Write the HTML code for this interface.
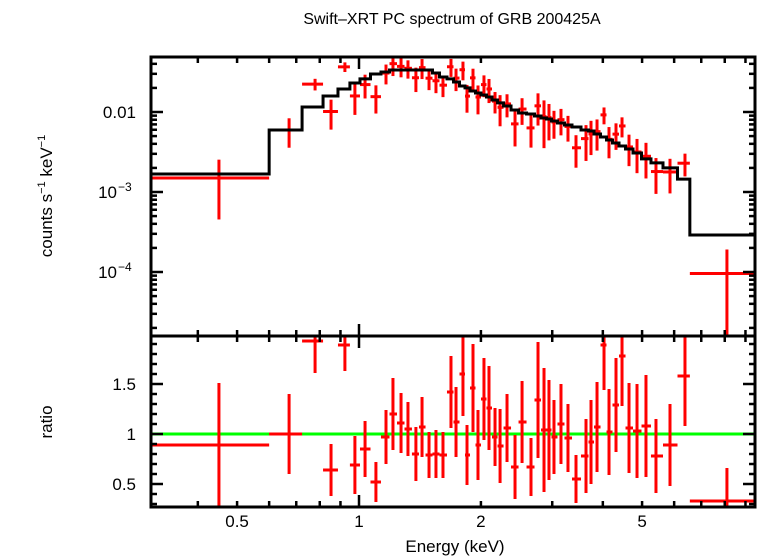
<!DOCTYPE html>
<html><head><meta charset="utf-8"><style>
body{margin:0;background:#fff;}
svg{display:block;font-family:"Liberation Sans",sans-serif;}
</style></head><body>
<svg id="chart" width="758" height="556" viewBox="0 0 758 556" xmlns="http://www.w3.org/2000/svg">
<defs>
<clipPath id="clipTop"><rect x="151" y="57" width="604" height="279"/></clipPath>
<clipPath id="clipBot"><rect x="151" y="336" width="604" height="171"/></clipPath>
</defs>
<text x="452" y="24" font-size="16" text-anchor="middle">Swift–XRT PC spectrum of GRB 200425A</text>
<text transform="translate(52,196) rotate(-90)" font-size="17" text-anchor="middle">counts s<tspan font-size="11" dy="-7">−1</tspan><tspan dy="7"> keV</tspan><tspan font-size="11" dy="-7">−1</tspan></text>
<text transform="translate(52,422) rotate(-90)" font-size="17" text-anchor="middle">ratio</text>
<text x="455" y="552" font-size="17" text-anchor="middle">Energy (keV)</text>
<g id="gTop"></g>
<g id="gBot"></g>
<g id="gAxes"></g>
</svg>
<script>
const energy=[0.451,0.672,0.779,0.853,0.923,0.977,1.035,1.101,1.166,1.213,1.270,1.321,1.382,1.431,1.489,1.549,1.612,1.687,1.736,1.806,1.848,1.912,1.967,2.035,2.094,2.167,2.230,2.320,2.428,2.527,2.659,2.767,2.863,2.945,3.030,3.153,3.281,3.434,3.635,3.740,3.870,4.027,4.143,4.311,4.461,4.642,4.858,5.112,5.411,5.860,6.381,8.10];
const modelVals=[0.00168,0.00596,0.01155,0.01585,0.0194,0.0230,0.0259,0.0299,0.0316,0.0335,0.0335,0.0335,0.0335,0.0335,0.0335,0.0307,0.0274,0.0259,0.0237,0.0211,0.0200,0.0183,0.0173,0.0163,0.0154,0.0141,0.0130,0.0119,0.0106,0.00972,0.00944,0.00891,0.00841,0.00818,0.00772,0.00729,0.00688,0.00649,0.00596,0.00579,0.00531,0.00487,0.00447,0.00410,0.00376,0.00345,0.00307,0.00259,0.00231,0.00200,0.00145,0.00029];
const ratioVals=[0.89,1.0,1.93,0.64,1.89,0.69,0.85,0.52,0.97,1.20,1.11,1.05,0.80,1.07,0.79,0.80,0.79,1.42,1.12,1.60,0.79,1.46,0.89,1.35,1.26,0.97,0.88,1.06,0.67,1.12,0.67,1.34,1.04,1.04,0.97,1.10,0.96,0.55,0.78,0.92,1.07,1.89,1.02,1.29,1.78,1.06,1.03,1.08,0.78,0.89,1.58,0.33];
const ratioErr=[0.62,0.40,0.32,0.26,0.26,0.29,0.28,0.20,0.27,0.36,0.30,0.27,0.27,0.30,0.23,0.24,0.23,0.36,0.35,0.42,0.30,0.44,0.35,0.41,0.42,0.29,0.37,0.34,0.32,0.41,0.29,0.58,0.62,0.50,0.37,0.40,0.34,0.24,0.37,0.42,0.45,0.45,0.43,0.47,0.50,0.45,0.47,0.51,0.37,0.41,0.50,0.33];
const xTickLabels=["0.5","1","2","5"];
const xTickValues=[0.5,1,2,5];
const yTopLabels=["0.01","10","10"];
const yTopExp=["","−3","−4"];
const yTopValues=[0.01,0.001,0.0001];
const yBotLabels=["0.5","1","1.5"];
const yBotValues=[0.5,1,1.5];

const NS="http://www.w3.org/2000/svg";
const X0=151,X1=755,T0=57,T1=336,B1=507;
const xs=e=>359+405*Math.log10(e);
const yt=v=>112-80*(Math.log10(v)+2);
const yb=r=>434-100*(r-1);
function mk(p,tag,at){const el=document.createElementNS(NS,tag);for(const k in at)el.setAttribute(k,at[k]);p.appendChild(el);return el;}
const gTop=document.getElementById('gTop'),gBot=document.getElementById('gBot'),gAx=document.getElementById('gAxes');
const dT=mk(gTop,'g',{'clip-path':'url(#clipTop)'});
const dB=mk(gBot,'g',{'clip-path':'url(#clipBot)'});
// bin edges
const n=energy.length,lo=[],hi=[];
for(let i=0;i<n;i++){
  lo.push(i===0?0.3:Math.sqrt(energy[i-1]*energy[i]));
  hi.push(i===n-1?9.6:Math.sqrt(energy[i]*energy[i+1]));
}
hi[0]=0.6;lo[1]=0.6;lo[n-1]=6.56;hi[n-2]=6.56;
// green line
const gl=mk(dB,'line',{x1:X0,x2:X1,y1:yb(1),y2:yb(1),stroke:'#00ff00','stroke-width':3});


// model step
let d='';
for(let i=0;i<n;i++){const y=yt(modelVals[i]);d+=(i===0?'M':'L')+xs(lo[i])+','+y+'L'+xs(hi[i])+','+y;}
// data
for(let i=0;i<n;i++){
  const xl=xs(lo[i]),xh=xs(hi[i]),xc=xs(energy[i]);
  const val=ratioVals[i]*modelVals[i],err=ratioErr[i]*modelVals[i];
  const g=mk(dT,'g',{stroke:'#ff0000','stroke-width':3});
  
  
  mk(g,'line',{x1:xl,x2:xh,y1:yt(val),y2:yt(val)});
  mk(g,'line',{x1:xc,x2:xc,y1:yt(val+err),y2:yt(Math.max(val-err,1e-7))});
  const g2=mk(dB,'g',{stroke:'#ff0000','stroke-width':3});
  
  
  mk(g2,'line',{x1:xl,x2:xh,y1:yb(ratioVals[i]),y2:yb(ratioVals[i])});
  mk(g2,'line',{x1:xc,x2:xc,y1:yb(ratioVals[i]+ratioErr[i]),y2:yb(ratioVals[i]-ratioErr[i])});
}
const mp=mk(dT,'path',{d:d,fill:'none',stroke:'#000','stroke-width':3});


// axes frames
mk(gAx,'rect',{x:X0,y:T0,width:X1-X0,height:T1-T0,fill:'none',stroke:'#000','stroke-width':3});
mk(gAx,'rect',{x:X0,y:T1,width:X1-X0,height:B1-T1,fill:'none',stroke:'#000','stroke-width':3});
const tk=mk(gAx,'g',{stroke:'#000','stroke-width':2.5});
// x ticks
const xt=[0.4,0.5,0.6,0.7,0.8,0.9,1,2,3,4,5,6,7,8,9];
for(const e of xt){const x=xs(e);if(x<X0||x>X1)continue;const L=(e===1)?12:6;
  for(const [ya,yb2] of [[T0,T0+L],[T1,T1-L],[T1,T1+L],[B1,B1-L]])mk(tk,'line',{x1:x,x2:x,y1:ya,y2:yb2});}
// y top ticks
for(let dcd=-5;dcd<=-1;dcd++)for(let m=1;m<10;m++){const v=m*Math.pow(10,dcd);const y=yt(v);if(y<T0||y>T1)continue;const L=m===1?12:6;
  mk(tk,'line',{x1:X0,x2:X0+L,y1:y,y2:y});mk(tk,'line',{x1:X1,x2:X1-L,y1:y,y2:y});}
// y bottom ticks
for(let r=3;r<=19;r++){const v=r/10,y=yb(v);const L=(r%5===0)?12:6;
  mk(tk,'line',{x1:X0,x2:X0+L,y1:y,y2:y});mk(tk,'line',{x1:X1,x2:X1-L,y1:y,y2:y});}
// labels
xTickValues.forEach((v,i)=>{const t=mk(gAx,'text',{x:xs(v),y:527,'font-size':17,'text-anchor':'middle'});t.textContent=xTickLabels[i];
  
  });
yTopValues.forEach((v,i)=>{const t=mk(gAx,'text',{x:136,y:yt(v)+6,'font-size':17,'text-anchor':'end'});
  
  
  if(yTopExp[i]){t.setAttribute('x',117);const s1=document.createElementNS(NS,'tspan');s1.textContent=yTopLabels[i];t.appendChild(s1);
    const t2=mk(gAx,'text',{x:118,y:yt(v)-1,'font-size':12,'text-anchor':'start'});t2.textContent=yTopExp[i];
    
    }
  else t.textContent=yTopLabels[i];});
yBotValues.forEach((v,i)=>{const t=mk(gAx,'text',{x:136,y:yb(v)+6,'font-size':17,'text-anchor':'end'});t.textContent=yBotLabels[i];
  
  });
</script>
</body></html>
